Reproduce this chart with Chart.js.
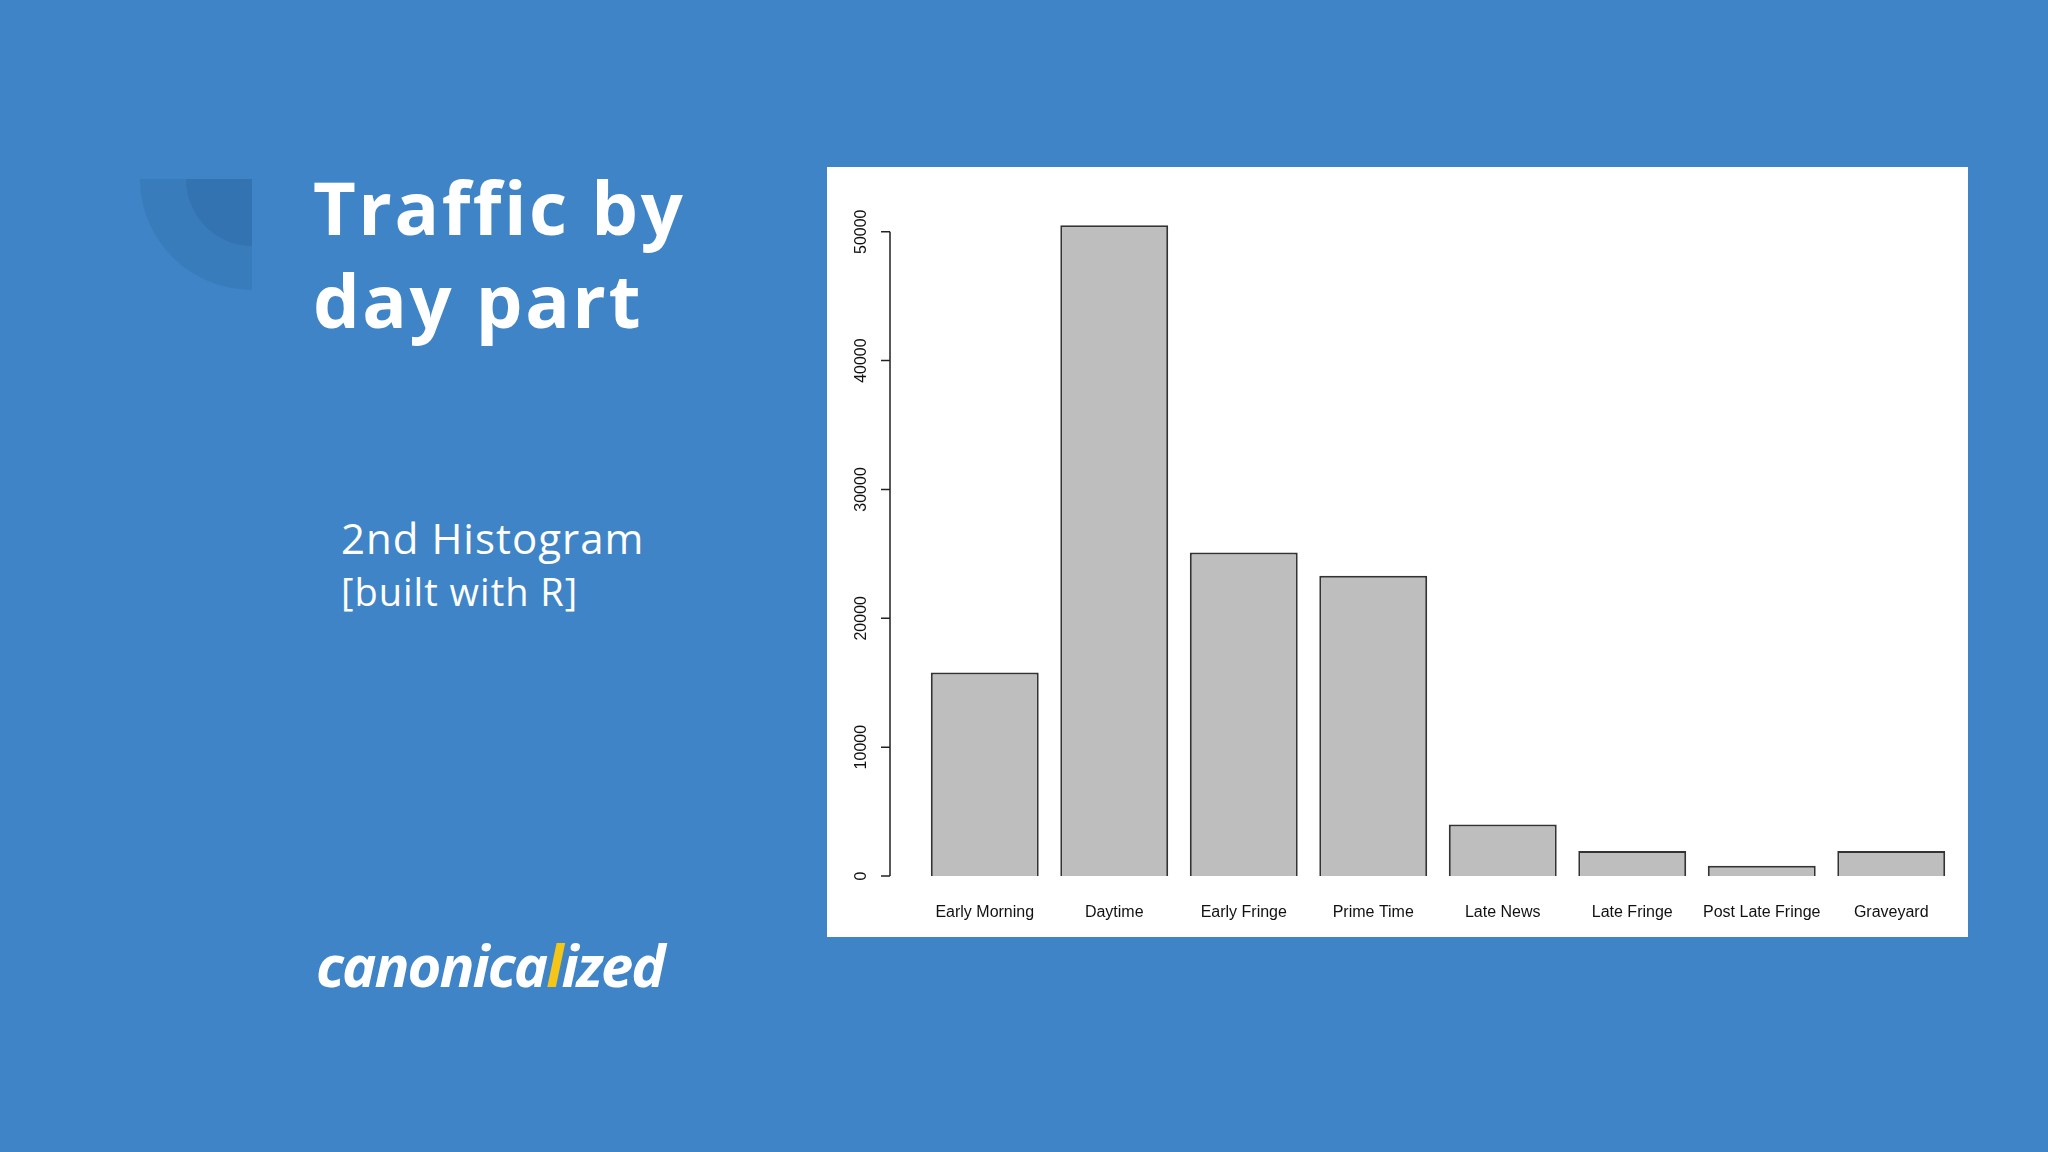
<!DOCTYPE html>
<html>
<head>
<meta charset="utf-8">
<script src="https://cdn.jsdelivr.net/npm/chart.js@4"></script>
<style>
  html, body { margin: 0; padding: 0; }
  body { width: 2048px; height: 1152px; background: #3e84c6; position: relative; overflow: hidden; font-family: "Open Sans", sans-serif; color: #fff; }
  .deco1 { position: absolute; left: 140px; top: 179px; width: 112px; height: 111px; background: rgba(20,60,110,0.10); border-bottom-left-radius: 112px 111px; }
  .deco2 { position: absolute; left: 186px; top: 179px; width: 66px; height: 67px; background: rgba(20,60,110,0.12); border-bottom-left-radius: 66px 67px; }
  .title { position: absolute; left: 313px; top: 160px; font-size: 74px; font-weight: 700; line-height: 93px; letter-spacing: 2.5px; }
  .sub { position: absolute; left: 341px; top: 512px; font-size: 42px; line-height: 52px; letter-spacing: 1px; }
  .sub2 { font-size: 38px; }
  .logo { position: absolute; left: 316px; top: 925px; font-size: 58px; font-weight: 700; font-style: italic; letter-spacing: -2px; }
  .logo span { color: #f5c518; }
  #panel { position: absolute; left: 827px; top: 167px; width: 1141px; height: 770px; background: #fff; }
</style>
</head>
<body>
<div class="deco1"></div>
<div class="deco2"></div>
<div class="title">Traffic by<br>day part</div>
<div class="sub">2nd Histogram<br><span class="sub2">[built with R]</span></div>
<div class="logo">canonica<span>l</span>ized</div>
<div id="panel"><canvas id="chart" width="1141" height="770"></canvas></div>
<script>
const categories = ['Early Morning', 'Daytime', 'Early Fringe', 'Prime Time', 'Late News', 'Late Fringe', 'Post Late Fringe', 'Graveyard'];
const traffic = [15800, 50500, 25100, 23300, 4000, 1950, 800, 1950];
const yTicks = [0, 10000, 20000, 30000, 40000, 50000];

// R-style axes: y line only spans tick range, rotated labels
const rAxes = {
  id: 'rAxes',
  afterDraw(chart) {
    const ctx = chart.ctx;
    const x = chart.scales.x, y = chart.scales.y;
    const axisX = 63;
    ctx.save();
    ctx.strokeStyle = '#222';
    ctx.lineWidth = 1.5;
    ctx.beginPath();
    ctx.moveTo(axisX, y.getPixelForValue(yTicks[0]));
    ctx.lineTo(axisX, y.getPixelForValue(yTicks[yTicks.length - 1]));
    yTicks.forEach(t => {
      const py = y.getPixelForValue(t);
      ctx.moveTo(axisX, py);
      ctx.lineTo(axisX - 9, py);
    });
    ctx.stroke();
    ctx.fillStyle = '#111';
    ctx.font = '16px "Liberation Sans", Arial, sans-serif';
    ctx.textAlign = 'center';
    ctx.textBaseline = 'middle';
    yTicks.forEach(t => {
      const py = y.getPixelForValue(t);
      ctx.save();
      ctx.translate(35, py);
      ctx.rotate(-Math.PI / 2);
      ctx.fillText(String(t), 0, 0);
      ctx.restore();
    });
    categories.forEach((c, i) => {
      ctx.fillText(c, x.getPixelForValue(i), 746);
    });
    ctx.restore();
  }
};

new Chart(document.getElementById('chart'), {
  type: 'bar',
  data: {
    labels: categories,
    datasets: [{
      data: traffic,
      backgroundColor: '#bebebe',
      borderColor: '#333',
      borderWidth: 2,
      categoryPercentage: 1,
      barPercentage: 1 / 1.2
    }]
  },
  options: {
    responsive: false,
    animation: false,
    layout: { padding: { left: 93, right: 12, top: 39, bottom: 61 } },
    scales: {
      x: { display: false },
      y: { display: false, min: 0, max: 52000 }
    },
    plugins: { legend: { display: false }, tooltip: { enabled: false } }
  },
  plugins: [rAxes]
});
</script>
</body>
</html>
